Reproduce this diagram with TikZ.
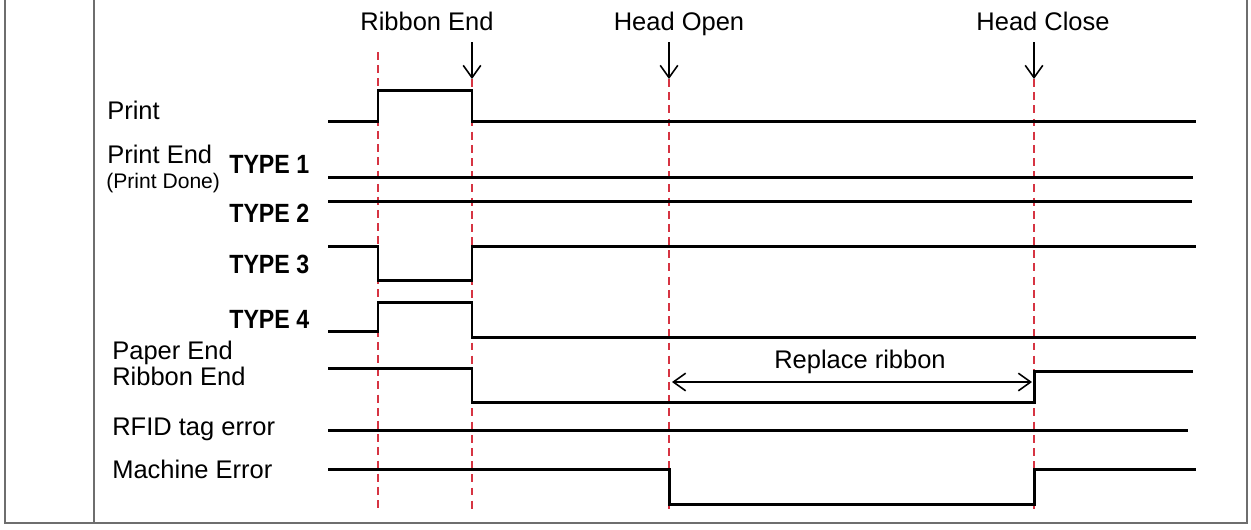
\documentclass[tikz,border=0pt]{standalone}
\usepackage{fontspec}
\setmainfont{Liberation Sans}
\newfontfamily\typefont[FakeStretch=0.88]{Liberation Sans}
\usepackage{xcolor}
\usetikzlibrary{positioning, arrows.meta}
\definecolor{markred}{RGB}{214,52,66}
\definecolor{framegray}{RGB}{110,110,110}

\begin{document}
\begin{tikzpicture}[
    x=0.02cm, y=-0.02cm,
    frame/.style={framegray, line width=1.1pt},
    sig/.style={line width=1.7pt},
    marker/.style={markred, line width=0.9pt, dash pattern=on 4.5pt off 3pt},
    arrow/.style={-{Straight Barb[length=7pt, width=10pt]}, line width=0.9pt},
    dblarrow/.style={{Straight Barb[length=7pt, width=10pt]}-{Straight Barb[length=7pt, width=10pt]}, line width=0.9pt},
    label/.style={font=\fontsize{14.5}{16}\selectfont, inner sep=0pt},
    small/.style={font=\fontsize{12}{14}\selectfont, inner sep=0pt},
    typ/.style={font=\typefont\bfseries\fontsize{15}{17}\selectfont, inner sep=0pt}
]
\useasboundingbox (0,0) rectangle (1251,529);

\draw[frame] (5,0) -- (5,523) -- (1247,523) -- (1247,0);
\draw[frame] (94,0) -- (94,523);

% events
\node[label, anchor=base] (evribbon) at (427,30) {Ribbon End};
\node[label, anchor=base] (evopen) at (679,30) {Head Open};
\node[label, anchor=base] (evclose) at (1043,30) {Head Close};

\coordinate (bottom) at (0,510);
\coordinate (mk1) at (378,52);
\coordinate (a2) at (472,42);
\coordinate (mk2) at (472,79);
\coordinate (a3) at (669,42);
\coordinate (mk3) at (669,79);
\coordinate (a4) at (1034,42);
\coordinate (mk4) at (1034,79);

\draw[marker] (mk1) -- (mk1 |- bottom);
\draw[marker] (mk2) -- (mk2 |- bottom);
\draw[marker] (mk3) -- (mk3 |- bottom);
\draw[marker] (mk4) -- (mk4 |- bottom);

\draw[arrow] (a2) -- (mk2);
\draw[arrow] (a3) -- (mk3);
\draw[arrow] (a4) -- (mk4);

% signal names
\node[label, anchor=base west] (print) at (107,119) {Print};
\node[label, anchor=base west] (printend) at (107,163) {Print End};
\node[small, anchor=base west] (printdone) at (106,188) {(Print Done)};
\node[typ, anchor=base west] (type1) at (229,173) {TYPE 1};
\node[typ, anchor=base west] (type2) at (229,222) {TYPE 2};
\node[typ, anchor=base west] (type3) at (229,273) {TYPE 3};
\node[typ, anchor=base west] (type4) at (229,328) {TYPE 4};
\node[label, anchor=base west] (paperend) at (112,359) {Paper End};
\node[label, anchor=base west] (ribbonend) at (112,385) {Ribbon End};
\node[label, anchor=base west] (rfid) at (112,435) {RFID tag error};
\node[label, anchor=base west] (machine) at (112,478) {Machine Error};

% waveforms
\draw[sig] (328,121) -| (378,90) -| (472,121) -- (1196,121);
\draw[sig] (328,177) -- (1193,177);
\draw[sig] (328,201) -- (1192,201);
\draw[sig] (328,246) -| (378,280) -| (472,246) -- (1196,246);
\draw[sig] (328,331) -| (378,302) -| (472,337) -- (1196,337);
\draw[sig] (328,368) -| (472,402) -| (1034,371) -- (1193,371);
\draw[sig] (328,430) -- (1188,430);
\draw[sig] (328,469) -| (669,504) -| (1034,469) -- (1196,469);

\coordinate (rr1) at (672,382);
\coordinate (rr2) at (1032,382);
\draw[dblarrow] (rr1) -- (rr2);
\node[label, anchor=base] (replace) at (860,368) {Replace ribbon};
\end{tikzpicture}
\end{document}
